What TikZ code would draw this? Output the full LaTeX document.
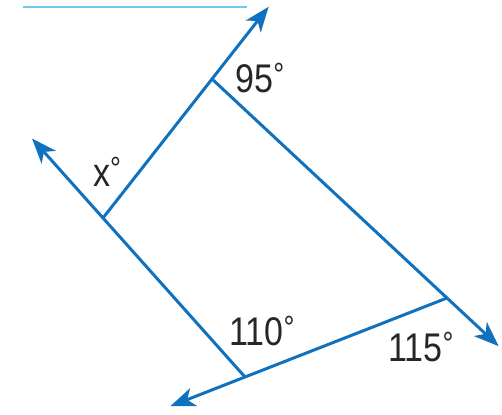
\documentclass[tikz,border=0pt]{standalone}
\usepackage{fontspec}
\usepackage{tikz}
\usetikzlibrary{arrows.meta,calc}
\newfontfamily\anglefont{Liberation Sans}
\definecolor{lineblue}{RGB}{16,114,190}
\definecolor{rulecyan}{RGB}{110,200,240}
\newcommand{\dgr}{\raisebox{7pt}{\fontsize{32}{32}\selectfont °}}

\begin{document}
\begin{tikzpicture}[x=1pt,y=-1pt,>={Stealth[length=25pt,width=19pt,inset=7pt]},every node/.style={font=\anglefont\fontsize{40}{40}\selectfont,text=black!85,inner sep=0pt,xscale=0.85},ray/.style={->,draw=lineblue,fill=lineblue,line width=3pt},topline/.style={draw=rulecyan,line width=2pt}]
\useasboundingbox (0,0) rectangle (502,414);
\coordinate (T) at (212,79); \coordinate (L) at (103,218); \coordinate (B) at (245,377); \coordinate (R) at (447,298);
\coordinate (tipL) at ($(B)!1.5!(L)$); \coordinate (tipT) at ($(L)!1.52!(T)$); \coordinate (tipR) at ($(T)!1.22!(R)$); \coordinate (tipB) at ($(R)!1.37!(B)$);
\coordinate (ruleA) at (23,7); \coordinate (ruleB) at (247,7);
\draw[topline] (ruleA) -- (ruleB);
\draw[ray] (B) -- (tipL); \draw[ray] (L) -- (tipT); \draw[ray] (T) -- (tipR); \draw[ray] (R) -- (tipB);
\node (a95) at (260,78) {95\dgr}; \node (ax) at (107,172) {x\dgr}; \node (a110) at (262,331) {110\dgr}; \node (a115) at (421,347) {115\dgr};
\end{tikzpicture}
\end{document}
